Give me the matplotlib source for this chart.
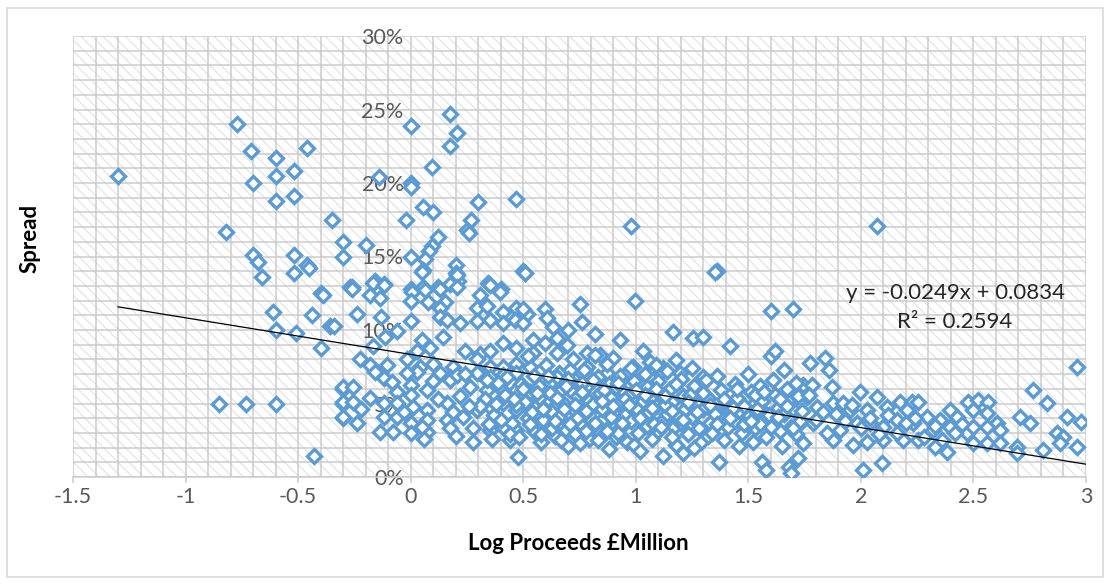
import numpy as np
import matplotlib
matplotlib.use("Agg")
import matplotlib.pyplot as plt
from matplotlib.patches import Rectangle
from matplotlib.ticker import MultipleLocator, PercentFormatter

plt.rcParams["font.family"] = ["Lato", "DejaVu Sans"]
plt.rcParams["hatch.linewidth"] = 0.7

# (log proceeds in £m, spread in %) for each issue
points = [
    # small issues
    (-1.30, 20.5), (-0.77, 24.0), (-0.71, 22.2), (-0.60, 21.7), (-0.46, 22.4), (-0.60, 20.5),
    (-0.52, 20.8), (-0.70, 20.0), (-0.60, 18.8), (-0.52, 19.1), (-0.35, 17.5), (-0.82, 16.7),
    (-0.30, 16.0), (-0.30, 15.0), (-0.70, 15.1), (-0.68, 14.6), (-0.52, 15.1), (-0.46, 14.4),
    (-0.45, 14.2), (-0.66, 13.6), (-0.52, 13.9), (-0.40, 12.5), (-0.39, 12.4), (-0.27, 12.9),
    (-0.61, 11.2), (-0.44, 11.0), (-0.60, 10.0), (-0.51, 9.8), (-0.36, 10.3), (-0.40, 8.8),
    (-0.85, 5.0), (-0.73, 5.0), (-0.60, 5.0), (-0.30, 6.0), (-0.30, 5.0), (-0.30, 4.0),
    (-0.43, 1.4),
    # high-spread issues around zero
    (0.176, 24.7), (0.0, 23.9), (0.204, 23.4), (0.176, 22.5), (0.096, 21.1), (-0.14, 20.4),
    (0.0, 20.0), (0.0, 19.7), (0.47, 18.9), (0.30, 18.7), (0.055, 18.4), (0.10, 18.0),
    (-0.02, 17.5), (0.27, 17.5), (0.25, 16.8), (0.26, 16.6), (0.98, 17.1), (0.12, 16.3),
    (0.095, 15.7), (0.083, 15.4), (-0.20, 15.8), (0.0, 15.0), (0.063, 14.8), (0.053, 14.1),
    (0.20, 14.4), (0.20, 13.9), (0.21, 13.3), (0.50, 14.0), (1.36, 14.0), (-0.26, 12.9),
    (-0.16, 13.3), (-0.12, 13.1), (0.0, 12.8), (0.056, 12.9), (0.12, 12.9), (0.175, 13.1),
    (0.345, 13.2), (0.40, 12.8), (2.07, 17.1),
    # 7% - 14% band, -0.35 to 0.52
    (0.049, 13.97), (0.204, 13.74), (0.508, 13.86), (-0.26, 12.8), (-0.166, 13.2), (-0.12, 13.06),
    (-0.18, 12.4), (-0.136, 12.2), (0.004, 12.6), (0.064, 12.7), (0.13, 12.8), (0.204, 12.95),
    (0.078, 11.9), (0.0, 12.0), (0.152, 11.9), (0.13, 11.5), (0.308, 12.4), (0.352, 13.06),
    (0.397, 12.6), (0.293, 11.5), (0.338, 11.6), (0.41, 11.2), (0.47, 11.5), (0.515, 11.1),
    (-0.34, 10.3), (-0.24, 11.1), (-0.13, 10.9), (0.0, 10.6), (0.13, 10.9), (0.22, 10.5),
    (0.16, 10.7), (0.293, 10.6), (0.352, 10.7), (0.41, 10.5), (0.463, 10.7), (-0.062, 9.9),
    (-0.114, 9.5), (0.049, 9.3), (0.086, 8.75), (0.027, 8.6), (0.145, 9.5), (0.24, 8.6),
    (0.308, 8.4), (0.352, 8.6), (0.41, 9.1), (0.47, 8.75), (-0.166, 8.9), (-0.225, 8.0),
    (-0.18, 7.6), (-0.107, 7.6), (-0.018, 8.0), (0.041, 7.5), (0.10, 7.7), (0.19, 7.5),
    (0.293, 8.0), (0.352, 7.5), (0.41, 7.5), (0.47, 7.7), (-0.136, 7.05), (0.175, 6.8),
    (0.13, 7.05), (0.308, 7.05),
    # 1% - 7% band, -0.3 to 0.5
    (-0.30, 6.14), (-0.255, 6.14), (-0.30, 5.12), (-0.255, 5.12), (-0.30, 4.1), (-0.24, 3.65),
    (-0.159, 7.17), (-0.12, 6.71), (-0.084, 6.49), (0.0, 6.26), (0.071, 5.92), (-0.062, 5.8),
    (0.0, 5.58), (-0.12, 5.01), (-0.062, 5.01), (0.012, 4.78), (0.071, 4.56), (-0.12, 4.1),
    (-0.062, 4.1), (0.0, 3.65), (0.071, 3.88), (-0.136, 3.08), (-0.077, 3.08), (0.0, 2.97),
    (0.071, 3.08), (0.16, 5.01), (0.175, 6.6), (0.204, 6.94), (0.293, 7.05), (0.352, 6.82),
    (0.41, 6.94), (0.47, 7.05), (0.263, 6.14), (0.338, 5.92), (0.397, 6.03), (0.47, 5.92),
    (0.234, 4.1), (0.293, 4.56), (0.352, 4.78), (0.41, 5.01), (0.47, 4.56), (0.16, 3.88),
    (0.175, 3.31), (0.278, 3.31), (0.352, 3.2), (0.41, 3.42), (0.47, 3.2), (0.278, 2.4),
    (0.441, 2.52), (0.478, 1.38), (0.027, 7.17), (-0.018, 7.05),
    # 6.8% - 14% band, 0.5 to 1.35
    (0.508, 13.86), (1.352, 13.97), (0.752, 11.8), (0.996, 12.0), (0.597, 11.4), (0.604, 10.8),
    (0.633, 10.2), (0.70, 9.99), (0.76, 10.57), (0.819, 9.76), (0.93, 9.32), (1.167, 9.88),
    (1.255, 9.44), (0.545, 9.32), (0.597, 9.09), (0.648, 9.44), (0.693, 8.98), (0.545, 8.41),
    (0.648, 8.41), (0.782, 8.41), (0.841, 8.3), (0.90, 8.07), (0.989, 7.5), (1.063, 7.85),
    (1.122, 7.39), (1.18, 7.96), (0.53, 7.5), (0.708, 7.28), (0.782, 7.5), (0.871, 7.05),
    (0.96, 7.05), (1.107, 7.05), (1.196, 7.05), (1.30, 6.8), (0.50, 11.4), (0.50, 10.45),
    # large issues, 1.73 to 3
    (1.774, 7.73), (1.841, 8.07), (1.86, 7.28), (1.744, 6.26), (1.781, 6.26), (1.87, 6.14),
    (1.996, 5.8), (2.07, 5.47), (2.174, 5.13), (2.226, 5.13), (2.255, 5.13), (2.477, 5.13),
    (2.522, 5.24), (2.566, 5.13), (2.766, 5.92), (2.825, 5.02), (2.958, 7.5), (1.759, 5.47),
    (1.804, 4.79), (1.878, 5.02), (1.922, 5.02), (1.952, 4.56), (2.026, 4.56), (2.115, 4.79),
    (2.204, 4.56), (2.292, 4.1), (2.351, 3.88), (2.396, 4.56), (2.425, 4.1), (2.5, 4.56),
    (2.559, 4.33), (2.603, 3.65), (2.707, 4.1), (2.751, 3.65), (2.914, 4.1), (2.98, 3.76),
    (1.729, 3.65), (1.789, 3.65), (1.907, 3.2), (1.981, 3.65), (2.041, 3.65), (2.1, 3.42),
    (2.159, 3.88), (2.233, 3.65), (2.322, 3.2), (2.396, 3.42), (2.47, 2.97), (2.5, 3.42),
    (2.559, 3.42), (2.618, 3.2), (2.87, 2.97), (2.899, 2.74), (1.744, 2.29), (1.878, 2.52),
    (1.966, 2.18), (2.026, 2.4), (2.1, 2.52), (2.189, 2.52), (2.255, 2.52), (2.329, 2.06),
    (2.381, 1.72), (2.5, 2.29), (2.559, 2.29), (2.618, 2.29), (2.692, 2.06), (2.81, 1.84),
    (2.884, 2.29), (2.958, 2.06), (2.011, 0.5), (2.092, 0.93), (2.692, 1.61),
    # mid-size issues, 0.5 to 1.0
    (0.52, 8.2), (0.55, 6.9), (0.53, 5.8), (0.56, 4.9), (0.52, 4.0), (0.55, 3.1), (0.58, 2.4),
    (0.60, 7.6), (0.62, 6.4), (0.61, 5.3), (0.63, 4.4), (0.60, 3.6), (0.64, 2.8), (0.66, 7.1),
    (0.67, 5.9), (0.68, 5.0), (0.66, 4.1), (0.69, 3.2), (0.70, 2.1), (0.72, 8.0), (0.73, 6.6),
    (0.74, 5.5), (0.72, 4.6), (0.75, 3.7), (0.73, 2.9), (0.77, 7.3), (0.78, 6.1), (0.79, 5.2),
    (0.77, 4.3), (0.80, 3.4), (0.79, 2.6), (0.82, 8.3), (0.83, 6.8), (0.84, 5.7), (0.82, 4.8),
    (0.85, 3.9), (0.84, 3.0), (0.87, 7.7), (0.88, 6.3), (0.89, 5.4), (0.87, 4.5), (0.90, 3.5),
    (0.91, 2.7), (0.93, 6.9), (0.94, 5.9), (0.92, 5.0), (0.95, 4.2), (0.93, 3.3), (0.96, 2.4),
    (0.98, 7.4), (0.99, 6.5), (0.97, 5.6), (1.00, 4.7), (0.98, 3.8), (1.01, 3.0),
    # mid-size issues, 1.0 to 1.35
    (1.03, 8.6), (1.04, 7.0), (1.05, 6.1), (1.03, 5.2), (1.06, 4.4), (1.05, 3.5), (1.07, 2.6),
    (1.09, 7.6), (1.10, 6.5), (1.11, 5.6), (1.09, 4.8), (1.12, 3.9), (1.10, 3.1), (1.12, 1.4),
    (1.14, 7.2), (1.15, 6.0), (1.16, 5.1), (1.14, 4.3), (1.17, 3.4), (1.18, 2.2), (1.20, 6.7),
    (1.21, 5.5), (1.22, 4.6), (1.20, 3.7), (1.23, 2.9), (1.21, 1.6), (1.25, 7.4), (1.26, 6.2),
    (1.27, 5.0), (1.25, 4.1), (1.28, 3.3), (1.29, 2.4), (1.31, 6.6), (1.32, 5.4), (1.30, 4.6),
    (1.33, 3.7), (1.32, 2.8), (1.30, 9.5),
    # 1.35 to 1.73
    (1.42, 8.9), (1.60, 11.3), (1.70, 11.4), (1.60, 8.2), (1.62, 8.6), (1.36, 6.9), (1.38, 5.9),
    (1.40, 5.0), (1.37, 4.2), (1.41, 3.4), (1.39, 2.5), (1.37, 1.0), (1.44, 6.3), (1.45, 5.4),
    (1.46, 4.5), (1.44, 3.8), (1.47, 3.0), (1.46, 2.1), (1.50, 7.0), (1.51, 5.8), (1.52, 4.9),
    (1.50, 4.1), (1.53, 3.3), (1.52, 2.4), (1.55, 6.2), (1.56, 5.2), (1.57, 4.4), (1.55, 3.6),
    (1.58, 2.7), (1.56, 1.0), (1.58, 0.5), (1.61, 6.6), (1.62, 5.6), (1.63, 4.7), (1.61, 3.9),
    (1.64, 3.1), (1.65, 2.1), (1.66, 7.3), (1.67, 6.0), (1.68, 5.1), (1.66, 4.3), (1.69, 3.4),
    (1.68, 0.7), (1.69, 0.3), (1.71, 6.4), (1.72, 5.5), (1.70, 4.6), (1.73, 3.8), (1.71, 2.9),
    (1.72, 1.3),
    # core of the cloud
    (0.33, 5.3), (0.37, 4.2), (0.42, 5.6), (0.45, 3.7), (0.49, 6.3), (0.51, 5.1), (0.54, 4.4),
    (0.57, 6.2), (0.59, 3.9), (0.62, 5.7), (0.65, 6.8), (0.68, 4.6), (0.71, 5.9), (0.74, 4.0),
    (0.76, 6.4), (0.81, 5.0), (0.86, 5.9), (0.89, 4.1), (0.91, 6.1), (0.95, 5.3), (0.57, 5.4),
    (0.63, 3.3), (0.70, 6.7), (0.78, 3.1), (0.85, 4.6), (0.47, 4.9), (0.39, 6.4), (0.35, 3.6),
    (0.44, 2.9), (0.58, 2.9), (0.67, 2.5), (0.75, 2.3), (0.83, 2.5), (0.92, 3.0), (0.99, 2.2),
    (1.08, 3.6), (1.13, 4.9), (1.19, 4.1), (1.24, 5.6), (1.35, 4.3), (1.43, 4.7), (1.48, 3.6),
    (1.53, 5.6), (1.59, 4.2), (1.64, 5.3), (1.34, 3.0), (1.26, 2.0), (1.16, 2.7), (1.02, 1.8),
    (0.88, 1.9),
    (0.31, 4.8), (0.34, 6.6), (0.36, 2.6), (0.38, 5.0), (0.40, 3.9), (0.43, 6.8), (0.46, 5.3),
    (0.48, 2.7), (0.50, 6.0), (0.53, 3.6), (0.56, 5.7), (0.59, 4.6), (0.61, 6.9), (0.64, 3.8),
    (0.65, 5.4), (0.69, 6.2), (0.71, 3.6), (0.73, 4.9), (0.76, 5.8), (0.78, 4.5), (0.81, 6.6),
    (0.82, 3.7), (0.85, 5.2), (0.87, 3.1), (0.90, 4.8), (0.92, 6.4), (0.94, 3.7), (0.97, 4.9),
    (1.00, 5.9), (1.02, 4.0), (1.04, 5.6), (1.07, 4.7), (1.09, 6.0), (1.11, 3.4), (1.13, 5.5),
    (1.16, 4.5), (1.18, 6.3), (1.21, 3.9), (1.23, 5.1), (1.27, 4.4), (1.30, 5.7), (1.33, 4.9),
    (1.36, 3.6), (1.39, 5.3), (1.42, 4.0), (1.45, 6.0), (1.48, 4.8), (1.51, 3.8), (1.54, 4.6),
    (1.57, 5.8), (1.60, 3.4), (1.63, 4.1), (1.67, 4.8), (1.70, 3.3), (1.74, 4.5), (1.77, 5.6),
    (1.80, 3.9), (1.83, 4.4), (1.85, 3.0), (1.89, 4.3), (1.93, 3.8), (1.96, 4.9), (2.00, 3.3),
    (2.04, 4.0), (2.08, 2.9), (2.12, 4.2), (2.16, 3.0), (2.20, 3.7), (2.24, 4.0), (2.28, 2.7),
    (2.33, 3.5), (2.36, 2.5), (2.42, 3.0), (2.45, 3.6), (0.22, 5.5), (0.26, 4.8), (0.19, 4.4),
    (0.12, 5.3), (0.05, 3.4), (-0.03, 4.4), (-0.18, 5.4), (-0.22, 4.6), (0.10, 6.5), (0.24, 7.0),
    (0.06, 2.6), (0.20, 2.8),
]
log_proceeds = [p[0] for p in points]
spread_pct = [p[1] for p in points]

# Linear trend (spread as a fraction)
trend_slope = -0.0249
trend_intercept = 0.0834
trend_r2 = 0.2594
trend_x_start = -1.30
trend_x_end = 3.0

x_ticks = [-1.5, -1.0, -0.5, 0.0, 0.5, 1.0, 1.5, 2.0, 2.5, 3.0]
x_tick_labels = ["-1.5", "-1", "-0.5", "0", "0.5", "1", "1.5", "2", "2.5", "3"]
y_ticks = [0.0, 0.05, 0.10, 0.15, 0.20, 0.25, 0.30]

W, H = 1111, 584
fig = plt.figure(figsize=(W / 100, H / 100), dpi=100)
fig.subplots_adjust(left=73 / W, right=1086 / W, top=1 - 36 / H, bottom=1 - 477 / H)
ax = fig.add_subplot(111)

# Chart-area border
fig.patches.append(Rectangle((7 / W, 1 - 577 / H), (1103 - 7) / W, (577 - 8) / H,
                             transform=fig.transFigure, fill=False,
                             edgecolor="#d9d9d9", linewidth=1.2))

ax.set_xlim(-1.5, 3.0)
ax.set_ylim(0, 0.30)

# Hatched plot-area background
ax.add_patch(Rectangle((0, 0), 1, 1, transform=ax.transAxes, facecolor="white",
                       edgecolor="#dedede", hatch="\\\\\\", linewidth=0, zorder=0.1))

ax.set_axisbelow(True)
ax.xaxis.set_major_locator(MultipleLocator(0.5))
ax.xaxis.set_minor_locator(MultipleLocator(0.1))
ax.yaxis.set_major_locator(MultipleLocator(0.05))
ax.yaxis.set_minor_locator(MultipleLocator(0.01))
ax.grid(which="both", color="#cbcbcb", linewidth=1.1)

ax.set_xticks(x_ticks)
ax.set_xticklabels(x_tick_labels)
ax.set_yticks(y_ticks)
ax.yaxis.set_major_formatter(PercentFormatter(1.0, decimals=0))

for side in ("top", "right"):
    ax.spines[side].set_visible(False)
ax.spines["left"].set_position(("data", 0))
ax.spines["left"].set_visible(False)
ax.spines["bottom"].set_color("#cbcbcb")
ax.spines["bottom"].set_linewidth(1.1)

ax.tick_params(axis="x", which="major", length=4, color="#cbcbcb", width=1.1,
               labelsize=15.5, labelcolor="#595959", pad=3)
ax.tick_params(axis="x", which="minor", length=0)
ax.tick_params(axis="y", which="both", length=0, labelsize=15.5, labelcolor="#595959", pad=5)

ax.plot(log_proceeds, np.array(spread_pct) / 100.0, linestyle="none", marker="D",
        markersize=7.6, markerfacecolor="white", markeredgecolor="#5b9bd5",
        markeredgewidth=2.4, zorder=3)

tx = np.array([trend_x_start, trend_x_end])
ax.plot(tx, np.polyval([trend_slope, trend_intercept], tx), color="black",
        linewidth=0.9, zorder=4)

ax.text(0.8707, 0.4172, f"y = {trend_slope:.4f}x + {trend_intercept:.4f}",
        transform=ax.transAxes, ha="center", va="center", fontsize=16, color="#262626", zorder=5)
ax.text(0.8707, 0.3515, f"R² = {trend_r2:.4f}", transform=ax.transAxes,
        ha="center", va="center", fontsize=16, color="#262626", zorder=5)

ax.set_xlabel("Log Proceeds £Million", fontsize=16, fontweight="bold", color="black")
ax.xaxis.label.set_va("center")
ax.xaxis.set_label_coords(0.4985, -0.1497)
ax.set_ylabel("Spread", fontsize=16, fontweight="bold", color="black")
ax.yaxis.label.set_va("center")
ax.yaxis.set_label_coords(-0.0424, 0.54)

fig.savefig("out.png", dpi=100)
